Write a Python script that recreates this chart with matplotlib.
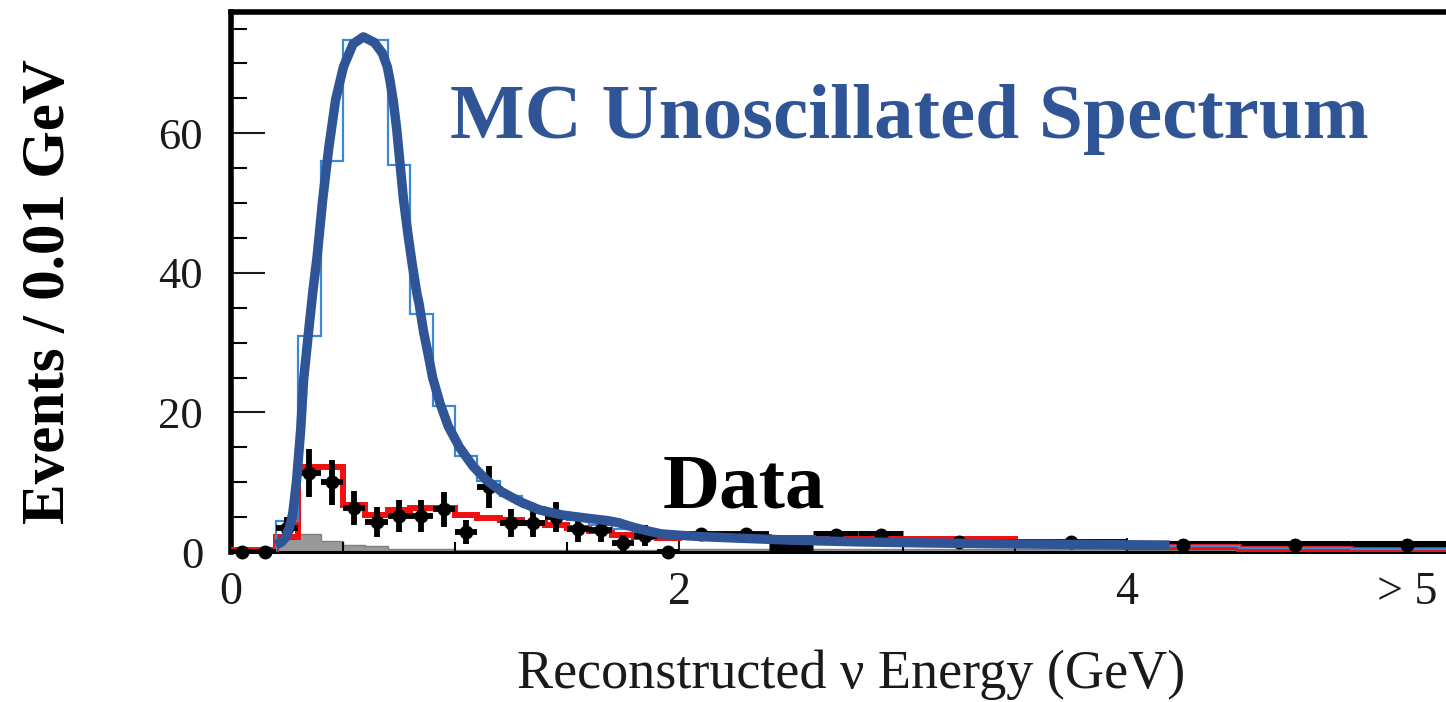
import numpy as np
import matplotlib.pyplot as plt
from matplotlib.ticker import FixedLocator

plt.rcParams["font.family"] = ["Liberation Serif", "DejaVu Serif"]

# Reconstructed energy binning (GeV): 0.1 GeV steps up to 2, coarser above, last bin is overflow
bin_edges = [0.0, 0.1, 0.2, 0.3, 0.4, 0.5, 0.6, 0.7, 0.8, 0.9, 1.0,
             1.1, 1.2, 1.3, 1.4, 1.5, 1.6, 1.7, 1.8, 1.9, 2.0,
             2.2, 2.4, 2.6, 2.8, 3.0, 3.5, 4.0, 4.5, 5.0, 5.5]

# MC expectation without oscillation (light blue outline)
mc_unosc = [0.0, 0.3, 4.5, 31.0, 56.0, 73.4, 73.4, 55.4, 34.1, 20.9,
            13.8, 10.2, 8.0, 6.4, 5.6, 4.6, 3.9, 3.3, 2.9, 2.6,
            2.3, 2.1, 1.9, 1.7, 1.5, 1.3, 1.1, 0.9, 0.6, 0.5]

# best-fit oscillated prediction (red)
mc_osc = [0.3, 0.3, 2.1, 12.2, 12.2, 6.7, 5.3, 6.0, 6.3, 6.3,
          5.3, 4.9, 4.6, 4.2, 3.8, 3.4, 3.0, 2.5, 2.2, 2.0,
          2.2, 2.1, 2.0, 1.9, 1.8, 1.8, 1.2, 0.7, 0.4, 0.3]

# non-CCQE / background component (grey)
mc_bkg = [0.0, 0.0, 1.8, 2.6, 1.6, 1.0, 0.9, 0.5, 0.4, 0.4,
          0.3, 0.3, 0.3, 0.3, 0.3, 0.3, 0.3, 0.3, 0.3, 0.3,
          0.4, 0.4, 0.4, 0.4, 0.4, 0.5, 0.4, 0.3, 0.3, 0.3]

# observed events per bin and their errors
data_counts = [0.0, 0.0, 3.4, 11.3, 10.0, 6.3, 4.3, 5.2, 5.2, 6.1,
               2.9, 9.3, 4.1, 4.1, 5.0, 3.3, 3.2, 1.3, 2.3, 0.0,
               2.6, 2.6, 0.9, 2.4, 2.4, 1.4, 1.4, 1.0, 1.0, 1.0]
data_err = [0.0, 0.0, 1.6, 3.4, 3.2, 2.5, 2.1, 2.3, 2.3, 2.5,
            1.7, 3.0, 2.0, 2.0, 2.2, 1.8, 1.8, 1.1, 1.5, 0.0,
            0.4, 0.4, 0.3, 0.3, 0.3, 0.3, 0.3, 0.2, 0.2, 0.2]
# wide bins whose horizontal bars are drawn heavier
thick_bins = [22, 23, 24, 27, 28, 29]

# smooth hand-drawn shape of the unoscillated spectrum
curve_e = [0.20, 0.225, 0.244, 0.262, 0.276, 0.293, 0.311, 0.324, 0.347, 0.366,
           0.385, 0.409, 0.437, 0.467, 0.502, 0.545, 0.591, 0.64, 0.675, 0.698,
           0.71, 0.725, 0.74, 0.755, 0.77, 0.79, 0.81, 0.83, 0.84, 0.86,
           0.876, 0.90, 0.933, 0.97, 1.02, 1.08, 1.14, 1.21, 1.29, 1.38,
           1.48, 1.60, 1.68, 1.73, 1.79, 1.85, 1.92, 2.0, 2.1, 2.25,
           2.5, 2.8, 3.1, 3.5, 3.9, 4.19]
curve_n = [1.0, 1.4, 2.1, 3.6, 5.6, 10.3, 17.5, 24.6, 31.8, 37.5,
           42.5, 50.4, 58.0, 64.8, 69.5, 72.8, 73.8, 73.0, 71.5, 69.5,
           67.5, 64.5, 60.5, 55.5, 50.5, 45.5, 41.0, 37.0, 35.5, 31.5,
           29.0, 25.0, 21.3, 18.0, 15.0, 12.3, 10.3, 8.6, 7.2, 6.0,
           5.3, 4.8, 4.5, 4.2, 3.6, 3.1, 2.6, 2.4, 2.2, 2.0,
           1.7, 1.45, 1.3, 1.15, 1.05, 1.0]

x_ticks = [0, 2, 4, 5.25]
x_tick_labels = ["0", "2", "4", "> 5"]

edges = np.array(bin_edges)
centers = (edges[:-1] + edges[1:]) / 2
half_width = np.diff(edges) / 2
counts = np.array(data_counts)
errs = np.array(data_err)
thick = np.zeros(len(counts), dtype=bool)
thick[thick_bins] = True

fig = plt.figure(figsize=(14.46, 7.02), dpi=100)
ax = fig.add_axes([231 / 1446, 150 / 702, 1215 / 1446, 540 / 702])

ax.stairs(mc_bkg, edges, fill=True, facecolor="#999999", edgecolor="#808080",
          linewidth=1.0, zorder=1)
ax.errorbar(centers[thick], counts[thick], xerr=half_width[thick], yerr=errs[thick],
            fmt="none", ecolor="black", elinewidth=6.5, capsize=0, zorder=2)
ax.stairs(mc_osc, edges, color="#f01010", linewidth=4.3, zorder=3)
ax.stairs(mc_unosc, edges, color="#3a88d8", linewidth=1.6, zorder=3.5)
ax.errorbar(centers[~thick], counts[~thick], xerr=half_width[~thick], yerr=errs[~thick],
            fmt="none", ecolor="black", elinewidth=4.2, capsize=0, zorder=4)
ax.plot(centers, counts, "o", color="black", markersize=9, zorder=5, clip_on=False)
ax.plot(curve_e, curve_n, color="#2f5597", linewidth=6.8, solid_capstyle="butt",
        solid_joinstyle="round", zorder=6)

ax.set_xlim(0, 1215 / 224)
ax.set_ylim(0, 540 / 6.98)

ax.spines["right"].set_visible(False)
ax.spines["left"].set_linewidth(4.0)
ax.spines["top"].set_linewidth(4.0)
ax.spines["bottom"].set_linewidth(2.2)

ax.xaxis.set_major_locator(FixedLocator(x_ticks))
ax.set_xticklabels(x_tick_labels)
ax.xaxis.set_minor_locator(FixedLocator([0.5, 1.0, 1.5, 2.5, 3.0, 3.5, 4.5, 5.0]))
ax.xaxis.get_major_ticks()[-1].tick1line.set_visible(False)
ax.set_yticks([0, 20, 40, 60])
ax.yaxis.set_minor_locator(FixedLocator([5, 10, 15, 25, 30, 35, 45, 50, 55, 65, 70, 75]))

ax.tick_params(axis="x", which="major", direction="in", length=10, width=1.5,
               labelsize=33, pad=14, colors="#1a1a1a", top=False)
ax.tick_params(axis="x", which="minor", direction="in", length=7, width=1.5, top=False)
ax.tick_params(axis="y", which="major", direction="in", length=24.5, width=1.5,
               labelsize=32, pad=20, colors="#1a1a1a", right=False)
ax.tick_params(axis="y", which="minor", direction="in", length=11.5, width=1.5, right=False)

fig.text(49 / 1446, 1 - 292 / 702, "Events / 0.01 GeV", rotation=90, ha="center",
         va="center", fontsize=44, fontweight="bold")
fig.text(851 / 1446, 1 - 688 / 702, "Reconstructed \u03bd Energy (GeV)", ha="center",
         va="baseline", fontsize=39, color="#1a1a1a")
fig.text(450 / 1446, 1 - 138 / 702, "MC Unoscillated Spectrum", ha="left",
         va="baseline", fontsize=57, fontweight="bold", color="#2f5597")
fig.text(663 / 1446, 1 - 507 / 702, "Data", ha="left", va="baseline",
         fontsize=57, fontweight="bold", color="black")

fig.savefig("out.png", dpi=100)
